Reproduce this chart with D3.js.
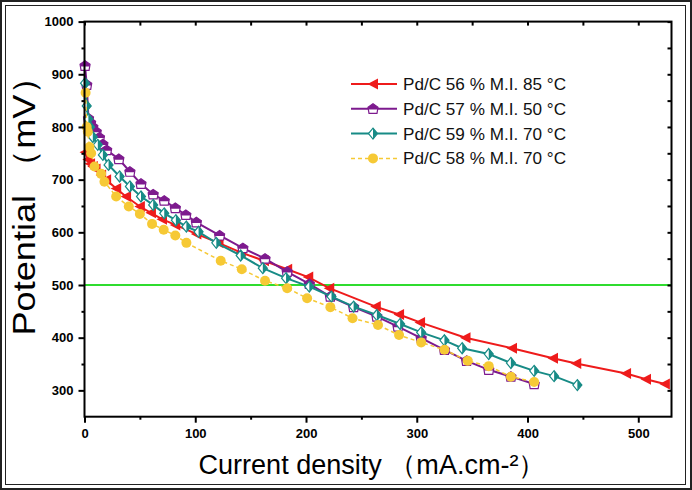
<!DOCTYPE html>
<html>
<head>
<meta charset="utf-8">
<style>
  body { margin: 0; background: #fff; }
  svg { display: block; font-family: Arial, "Liberation Sans", sans-serif; }
</style>
</head>
<body>
<svg width="692" height="490"></svg>
<script src="https://cdn.jsdelivr.net/npm/d3@7"></script>
<script>
// polarisation curves
var redX = [0.5, 3, 5, 7.5, 10, 15, 19.5, 28.6, 37.5, 50, 60, 70, 82, 101, 121, 141, 162, 183, 202, 221, 263, 284, 303, 344, 386, 423, 444, 489, 507, 524];
var redY = [752, 738, 730, 725, 720, 709, 700, 683, 668, 649, 637, 625, 614, 597, 580, 562, 546, 530, 515, 494, 459, 444, 429, 400, 380, 361, 351, 332, 321, 312];

var purpleX = [0.5, 2, 3.6, 5.5, 7.5, 10.6, 13.5, 16.6, 20, 31, 41, 51, 62, 72, 82, 91.5, 101, 122, 143, 163, 183, 203, 222, 243, 264, 283, 304, 325, 345, 365, 385, 406];
var purpleY = [916, 880, 816, 808, 800, 791, 780, 767, 756, 739, 715, 692, 672, 660, 646, 633, 619, 594, 570, 550, 525, 502, 478, 458, 440, 421, 399, 377, 356, 339, 326, 312];

var tealX = [0.5, 2, 3.5, 5, 7.5, 12, 16.6, 21.7, 31.7, 41, 51, 62, 72, 82.5, 92, 103, 119, 141, 161, 182, 203, 223, 243, 264, 285, 304, 325, 341, 365, 385, 406, 424, 445];
var tealY = [883, 840, 815, 800, 781, 766, 747, 728, 706, 687, 668, 652, 636, 623, 611, 601, 580, 556, 532, 513, 497, 478, 459, 443, 426, 410, 395, 380, 369, 352, 337, 327, 310];

var yellowX = [1, 2, 3, 4.5, 6, 9, 15, 18, 28.6, 40, 50, 61, 71.5, 82, 92, 123, 142, 163, 183, 201, 222, 242, 265, 284, 304, 325, 346, 365, 385, 406];
var yellowY = [865, 800, 791, 762, 750, 725, 711, 696, 668, 649, 635, 616, 605, 594, 580, 546, 530, 508, 494, 475, 458, 437, 424, 405, 391, 377, 356, 346, 326, 316];

var seriesNames = ["Pd/C 56 % M.I. 85 °C", "Pd/C 57 % M.I. 50 °C", "Pd/C 59 % M.I. 70 °C", "Pd/C 58 % M.I. 70 °C"];
var xTicks = [0, 100, 200, 300, 400, 500];
var yTicks = [300, 400, 500, 600, 700, 800, 900, 1000];
var refLine = 500;

var svg = d3.select("svg");
var pL = 84.5, pR = 671.5, pT = 21.6, pB = 416.7;

var x = d3.scaleLinear().domain([0, 530]).range([pL, pR]);
var y = d3.scaleLinear().domain([250, 1000]).range([pB, pT]);

// double frame round the picture
svg.append("rect").attr("x", 1).attr("y", 1).attr("width", 690).attr("height", 488)
  .attr("fill", "none").attr("stroke", "#222").attr("stroke-width", 2);
svg.append("rect").attr("x", 5.5).attr("y", 5.5).attr("width", 680).attr("height", 479)
  .attr("fill", "none").attr("stroke", "#222").attr("stroke-width", 1);

var series = [
  {name: seriesNames[0], xs: redX, ys: redY, color: "#ee1b1b", marker: "tri", dash: null, w: 2},
  {name: seriesNames[1], xs: purpleX, ys: purpleY, color: "#7d1a8e", marker: "house", dash: null, w: 2},
  {name: seriesNames[2], xs: tealX, ys: tealY, color: "#178b86", marker: "diamond", dash: null, w: 2},
  {name: seriesNames[3], xs: yellowX, ys: yellowY, color: "#f6c935", marker: "circle", dash: "4,3", w: 1.5}
];

function drawMarker(g, type, color) {
  if (type == "tri") {
    g.append("path").attr("d", "M-5.5,0L5,-5.5L5,5.5Z").attr("fill", color);
  } else if (type == "house") {
    g.append("path").attr("d", "M0,-5L5,-1.5L4,4.5L-4,4.5L-5,-1.5Z")
      .attr("fill", "#fff").attr("stroke", color).attr("stroke-width", 1.2);
    g.append("path").attr("d", "M0,-5L5,-1.5L4.7,0.6L-4.7,0.6L-5,-1.5Z").attr("fill", color);
  } else if (type == "diamond") {
    g.append("path").attr("d", "M0,-5.5L4.5,0L0,5.5L-4.5,0Z")
      .attr("fill", "#fff").attr("stroke", color).attr("stroke-width", 1.2);
    g.append("path").attr("d", "M0,-5.5L4.5,0L0,5.5Z").attr("fill", color);
  } else {
    g.append("circle").attr("r", 5).attr("fill", color);
  }
}

// reference line at 500 mV
svg.append("line")
  .attr("x1", pL).attr("x2", pR)
  .attr("y1", y(refLine)).attr("y2", y(refLine))
  .attr("stroke", "#2fdc2f").attr("stroke-width", 2);

var line = d3.line().x(function(d) { return x(d[0]); }).y(function(d) { return y(d[1]); });

series.forEach(function(s) {
  var pts = s.xs.map(function(v, i) { return [v, s.ys[i]]; });
  svg.append("path").datum(pts)
    .attr("d", line).attr("fill", "none")
    .attr("stroke", s.color).attr("stroke-width", s.w)
    .attr("stroke-dasharray", s.dash);
  pts.forEach(function(p) {
    var g = svg.append("g").attr("transform", "translate(" + x(p[0]) + "," + y(p[1]) + ")");
    drawMarker(g, s.marker, s.color);
  });
});

// axes
svg.append("g").attr("transform", "translate(0," + pB + ")")
  .call(d3.axisBottom(x).tickValues(xTicks).tickSize(6).tickPadding(6).tickFormat(d3.format("d")));
svg.append("g").attr("transform", "translate(0," + pB + ")")
  .call(d3.axisBottom(x).tickValues([50, 150, 250, 350, 450]).tickSize(3).tickFormat(""));
svg.append("g").attr("transform", "translate(0," + pT + ")")
  .call(d3.axisBottom(x).tickValues(d3.range(0, 531, 50)).tickSize(4).tickFormat(""));

svg.append("g").attr("transform", "translate(" + pL + ",0)")
  .call(d3.axisLeft(y).tickValues(yTicks).tickSize(6).tickPadding(5).tickFormat(d3.format("d")));
svg.append("g").attr("transform", "translate(" + pL + ",0)")
  .call(d3.axisLeft(y).tickValues([350, 450, 550, 650, 750, 850, 950]).tickSize(3).tickFormat(""));
svg.append("g").attr("transform", "translate(" + pR + ",0)")
  .call(d3.axisLeft(y).tickValues(d3.range(300, 1001, 50)).tickSize(4).tickFormat(""));

svg.selectAll(".domain").remove();
svg.selectAll(".tick line").attr("stroke", "#000").attr("stroke-width", 2);
svg.selectAll(".tick text").attr("font-family", "Arial, 'Liberation Sans', sans-serif")
  .attr("font-size", 13).attr("font-weight", "bold").attr("fill", "#000");

svg.append("rect").attr("x", pL).attr("y", pT)
  .attr("width", pR - pL).attr("height", pB - pT)
  .attr("fill", "none").attr("stroke", "#000").attr("stroke-width", 2);

// axis titles
svg.append("text")
  .attr("x", 372).attr("y", 474)
  .attr("text-anchor", "middle").attr("font-size", 27)
  .attr("textLength", 347).attr("lengthAdjust", "spacingAndGlyphs")
  .text("Current density （mA.cm-²）");

svg.append("text")
  .attr("transform", "translate(35,197) rotate(-90)")
  .attr("text-anchor", "middle").attr("font-size", 32)
  .attr("textLength", 277).attr("lengthAdjust", "spacingAndGlyphs")
  .text("Potential （mV）");

// legend
var legend = svg.append("g").attr("transform", "translate(351,84)");
series.forEach(function(s, i) {
  var row = legend.append("g").attr("transform", "translate(0," + (i * 24.8) + ")");
  row.append("line").attr("x1", 0).attr("x2", 46)
    .attr("stroke", s.color).attr("stroke-width", s.w)
    .attr("stroke-dasharray", s.dash);
  drawMarker(row.append("g").attr("transform", "translate(22,0)"), s.marker, s.color);
  row.append("text").attr("x", 52).attr("y", 6)
    .attr("font-size", 16).attr("fill", "#111")
    .attr("textLength", 163).attr("lengthAdjust", "spacingAndGlyphs")
    .text(s.name);
});
</script>
</body>
</html>
